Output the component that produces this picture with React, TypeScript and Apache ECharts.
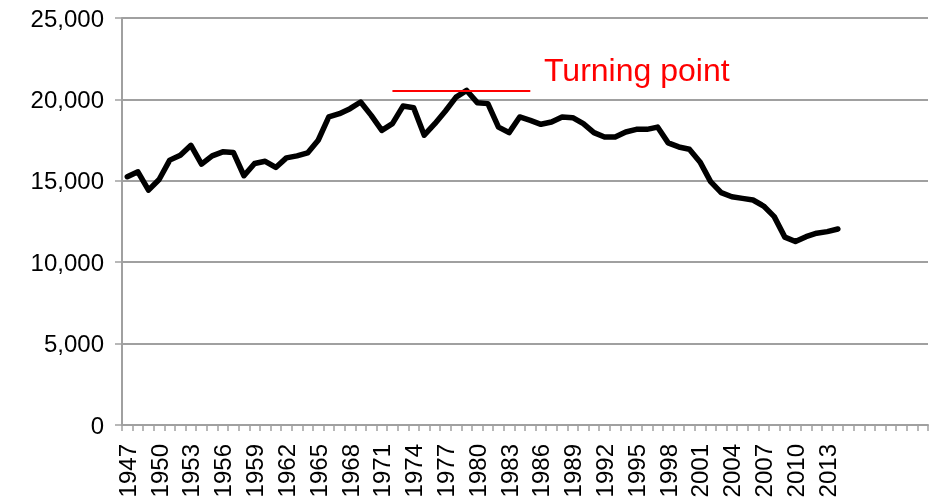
import React, { useEffect, useRef } from "react";
import * as echarts from "echarts";

const startYear = 1947;
const values: number[] = [
  15250, 15550, 14430, 15080, 16270, 16570, 17180, 16020, 16530, 16780,
  16740, 15310, 16060, 16200, 15820, 16410, 16530, 16710, 17490, 18920,
  19120, 19430, 19840, 19020, 18100, 18510, 19590, 19490, 17800, 18510,
  19290, 20140, 20550, 19800, 19740, 18300, 17960, 18920, 18710, 18470,
  18610, 18920, 18880, 18510, 17960, 17690, 17690, 18000, 18160, 18160,
  18300, 17330, 17080, 16940, 16160, 14950, 14270, 14020, 13920, 13820,
  13450, 12800, 11540, 11270, 11570, 11780, 11880, 12040,
];
const years: string[] = values.map((_, i) => String(startYear + i));
const blankSlots = 8;
const categories: string[] = [...years, ...Array(blankSlots).fill("")];

const yMin = 0;
const yMax = 25000;
const yStep = 5000;

const turningLabel = "Turning point";
const turningFrom = "1972";
const turningTo = "1985";
const turningValue = 20550;

export default function App() {
  const ref = useRef<HTMLDivElement>(null);
  useEffect(() => {
    if (!ref.current) return;
    const chart = echarts.init(ref.current, null, { renderer: "svg" });
    const font = "Liberation Sans, Arial, sans-serif";
    chart.setOption({
      animation: false,
      grid: { left: 122, right: 8, top: 18, bottom: 77, containLabel: false },
      xAxis: {
        type: "category",
        data: categories,
        boundaryGap: true,
        axisLine: { show: true, lineStyle: { color: "#a0a0a0", width: 2 } },
        axisTick: { show: true, interval: 0, length: 6, lineStyle: { color: "#a0a0a0", width: 1.5 } },
        axisLabel: {
          interval: 2,
          rotate: 90,
          margin: 19,
          color: "#000",
          fontSize: 24,
          fontFamily: font,
        },
        splitLine: { show: false },
      },
      yAxis: {
        type: "value",
        min: yMin,
        max: yMax,
        interval: yStep,
        axisLine: { show: true, lineStyle: { color: "#a0a0a0", width: 2 } },
        axisTick: { show: true, length: 7, lineStyle: { color: "#a0a0a0", width: 1.5 } },
        axisLabel: {
          margin: 18,
          color: "#000",
          fontSize: 24,
          fontFamily: font,
          formatter: (v: number) => v.toLocaleString("en-US"),
        },
        splitLine: { show: true, lineStyle: { color: "#a0a0a0", width: 2 } },
      },
      series: [
        {
          type: "line",
          data: values,
          showSymbol: false,
          symbol: "none",
          lineStyle: { color: "#000", width: 5.5, cap: "round", join: "round" },
          markLine: {
            silent: true,
            symbol: ["none", "none"],
            label: { show: false },
            lineStyle: { color: "#ff0000", width: 2, type: "solid" },
            data: [
              [
                { coord: [turningFrom, turningValue] },
                { coord: [turningTo, turningValue] },
              ],
            ],
          },
        },
      ],
      graphic: [
        {
          type: "text",
          left: 544,
          top: 54,
          style: {
            text: turningLabel,
            fill: "#ff0000",
            fontSize: 32,
            fontFamily: font,
          },
        },
      ],
    });
    return () => chart.dispose();
  }, []);
  return (
    <div
      ref={ref}
      style={{ position: "fixed", left: 0, top: 0, width: 936, height: 502 }}
    />
  );
}
